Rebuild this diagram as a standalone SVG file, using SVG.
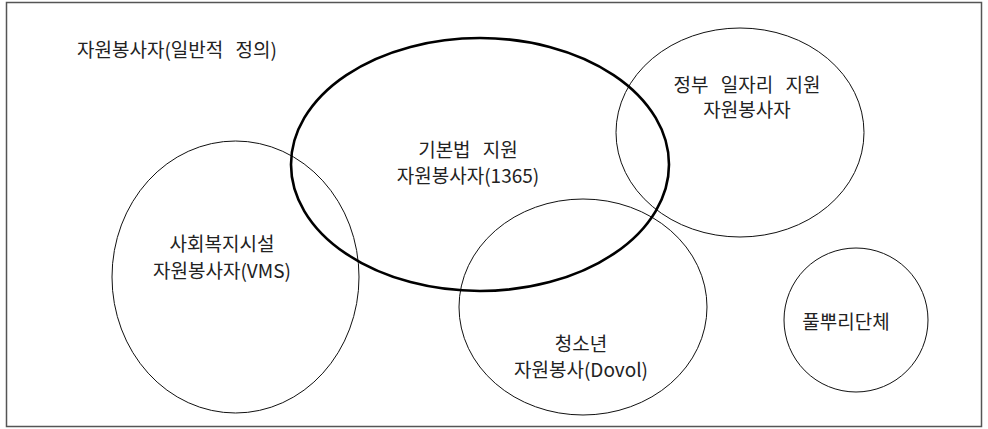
<svg xmlns="http://www.w3.org/2000/svg" width="988" height="429" viewBox="0 0 988 429">
<style>
.thin{fill:none;stroke:#111;stroke-width:1}
.thick{fill:none;stroke:#000;stroke-width:2.6}
text{font-family:"Noto Sans CJK KR","Noto Sans",sans-serif;font-size:19px;fill:#222;word-spacing:8px}
.c{text-anchor:middle}
</style>
<rect x="6.5" y="2.5" width="975" height="424" fill="#fff" stroke="#555" stroke-width="1.5"/>
<text x="77" y="57">자원봉사자(일반적 정의)</text>
<g id="vms">
<ellipse class="thin" cx="235.5" cy="277" rx="123.5" ry="136"/>
<text class="c" x="222" y="251">사회복지시설</text>
<text class="c" x="222" y="278">자원봉사자(VMS)</text>
</g>
<g id="gov">
<ellipse class="thin" cx="740" cy="132.5" rx="124" ry="104.5"/>
<text class="c" x="747" y="92">정부 일자리 지원</text>
<text class="c" x="747" y="117">자원봉사자</text>
</g>
<g id="youth">
<ellipse class="thin" cx="583" cy="307" rx="124" ry="108"/>
<text class="c" x="581" y="351">청소년</text>
<text class="c" x="581" y="377">자원봉사(Dovol)</text>
</g>
<g id="grassroots">
<circle class="thin" cx="856" cy="320" r="72"/>
<text class="c" x="846" y="329">풀뿌리단체</text>
</g>
<g id="basic">
<ellipse class="thick" cx="480" cy="164.5" rx="189" ry="126.5"/>
<text class="c" x="468" y="157">기본법 지원</text>
<text class="c" x="468" y="183">자원봉사자(1365)</text>
</g>
<g id="connectors"></g>
</svg>
